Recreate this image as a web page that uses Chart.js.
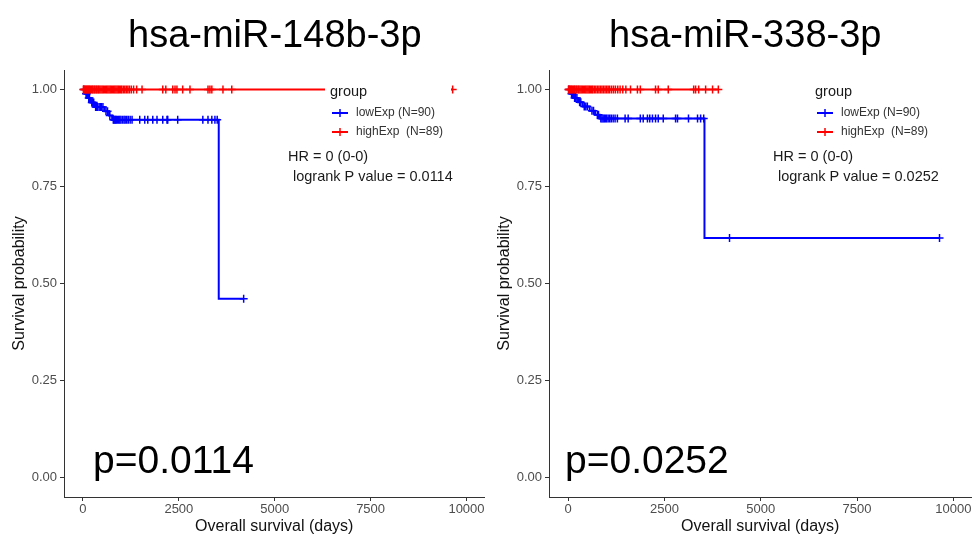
<!DOCTYPE html>
<html>
<head>
<meta charset="utf-8">
<script src="https://cdn.jsdelivr.net/npm/chart.js@4.4.1/dist/chart.umd.min.js"></script>
<style>
  body { margin: 0; width: 974px; height: 536px; background: #fff; position: relative; overflow: hidden;
         font-family: 'Liberation Sans', Arial, sans-serif; }
  .panel { position: absolute; top: 0; width: 490px; height: 536px; }
  .panel canvas { display: block; }
  .title { position: absolute; top: 15px; font-size: 38px; line-height: 38px; color: #000; white-space: nowrap; }
  .pval { position: absolute; top: 440px; font-size: 39px; line-height: 39px; color: #000; white-space: nowrap; }
</style>
</head>
<body>
<div class="panel" style="left:0"><canvas id="km148" width="490" height="536"></canvas></div>
<div class="panel" style="left:487px"><canvas id="km338" width="490" height="536"></canvas></div>
<div class="title" style="left:128px">hsa-miR-148b-3p</div>
<div class="title" style="left:609px">hsa-miR-338-3p</div>
<div class="pval" style="left:93px">p=0.0114</div>
<div class="pval" style="left:565px">p=0.0252</div>

<script>
/* Kaplan-Meier curves, lowExp vs highExp */
const xTicks = [0, 2500, 5000, 7500, 10000];
const yTicks = [0, 0.25, 0.5, 0.75, 1];
const groupLabels = ['lowExp (N=90)', 'highExp  (N=89)'];

// hsa-miR-148b-3p
const low148Times = [0, 50, 120, 200, 300, 560, 680, 760, 3540, 4190];
const low148Surv = [1, 0.989, 0.978, 0.966, 0.955, 0.944, 0.933, 0.922, 0.461, 0.461];
const low148Cens = [20, 80, 100, 150, 170, 230, 250, 280, 330, 350, 380, 420, 450, 480, 520, 600, 640, 700,
  790, 810, 830, 850, 870, 900, 930, 960, 990, 1030, 1070, 1100, 1140, 1180, 1230, 1280, 1480, 1610, 1690,
  1820, 1930, 2080, 2190, 2210, 2470, 3125, 3260, 3360, 3440, 3500, 4190];
const high148Times = [0, 9640];
const high148Surv = [1, 1];
const high148Cens = [10, 30, 50, 70, 90, 110, 130, 150, 170, 190, 220, 240, 260, 290, 310, 340, 360, 390, 410,
  440, 470, 500, 530, 560, 590, 620, 650, 680, 710, 740, 770, 800, 830, 860, 890, 920, 950, 980, 1010, 1050,
  1090, 1130, 1170, 1210, 1260, 1320, 1400, 1540, 2080, 2160, 2340, 2400, 2450, 2600, 2790, 3260, 3310, 3360,
  3650, 3880, 9640];
const stats148 = ['HR = 0 (0-0)', 'logrank P value = 0.0114'];

// hsa-miR-338-3p
const low338Times = [0, 60, 130, 260, 380, 560, 700, 820, 3540, 9640];
const low338Surv = [1, 0.989, 0.978, 0.967, 0.956, 0.945, 0.935, 0.925, 0.617, 0.617];
const low338Cens = [20, 90, 110, 170, 200, 230, 300, 330, 420, 460, 500, 620, 660, 760, 790, 850, 880, 910, 940,
  970, 1000, 1040, 1080, 1120, 1170, 1220, 1280, 1480, 1560, 1875, 1950, 2060, 2120, 2190, 2270, 2340, 2470,
  2790, 2840, 3125, 3360, 3440, 3520, 4190, 9640];
const high338Times = [0, 3900];
const high338Surv = [1, 1];
const high338Cens = [10, 30, 50, 70, 90, 110, 140, 160, 180, 210, 230, 260, 280, 310, 340, 370, 400, 430, 460,
  490, 520, 550, 580, 610, 640, 680, 720, 760, 800, 840, 880, 920, 960, 1000, 1040, 1080, 1130, 1180, 1230,
  1290, 1350, 1420, 1500, 1620, 1800, 1875, 2270, 2340, 2600, 3260, 3310, 3390, 3570, 3750, 3900];
const stats338 = ['HR = 0 (0-0)', 'logrank P value = 0.0252'];

const LOW_COLOR = '#0000ff';
const HIGH_COLOR = '#ff0000';
const FONT = "'Liberation Sans', Arial, sans-serif";

Chart.defaults.font.family = FONT;

function survAt(times, surv, t) {
  let s = surv[0];
  for (let i = 0; i < times.length; i++) if (times[i] <= t) s = surv[i];
  return s;
}

// legend box + HR/logrank text drawn inside the plot panel
const kmLegend = {
  id: 'kmLegend',
  afterDatasetsDraw(chart, args, opts) {
    const { ctx, chartArea: a } = chart;
    const L = a.left, T = a.top;
    ctx.save();
    ctx.fillStyle = '#fff';
    ctx.fillRect(L + 261, T + 8, 126, 64);
    ctx.textBaseline = 'middle';
    ctx.textAlign = 'left';
    ctx.fillStyle = '#1a1a1a';
    ctx.font = '14.5px ' + FONT;
    ctx.fillText('group', L + 266, T + 22);
    [LOW_COLOR, HIGH_COLOR].forEach((c, i) => {
      const y = T + 43 + i * 19;
      ctx.strokeStyle = c;
      ctx.lineWidth = 2;
      ctx.beginPath(); ctx.moveTo(L + 268, y); ctx.lineTo(L + 284, y); ctx.stroke();
      ctx.lineWidth = 1.5;
      ctx.beginPath(); ctx.moveTo(L + 276, y - 4); ctx.lineTo(L + 276, y + 4); ctx.stroke();
      ctx.fillStyle = '#333';
      ctx.font = '12px ' + FONT;
      ctx.fillText(groupLabels[i], L + 292, y);
    });
    ctx.fillStyle = '#1a1a1a';
    ctx.font = '14.5px ' + FONT;
    ctx.fillText(opts.stats[0], L + 224, T + 87);
    ctx.fillText(opts.stats[1], L + 229, T + 107);
    ctx.restore();
  }
};

function kmChart(canvasId, curves, stats, yAxisWidth, padRight, yTitlePad) {
  const datasets = [];
  curves.forEach(c => datasets.push({
    data: c.cens.map(t => ({ x: t, y: survAt(c.times, c.surv, t) })),
    showLine: false, pointStyle: 'cross', pointRadius: 4, pointBorderWidth: 1.5,
    borderColor: c.color, backgroundColor: c.color
  }));
  curves.forEach(c => datasets.push({
    data: c.times.map((t, i) => ({ x: t, y: c.surv[i] })),
    showLine: true, stepped: 'before', borderColor: c.color, borderWidth: 2, pointRadius: 0, fill: false
  }));

  return new Chart(document.getElementById(canvasId), {
    type: 'scatter',
    data: { datasets },
    plugins: [kmLegend],
    options: {
      responsive: false, animation: false, devicePixelRatio: 1,
      layout: { padding: { top: 70, right: padRight, bottom: 0, left: 0 } },
      plugins: { legend: { display: false }, tooltip: { enabled: false }, kmLegend: { stats } },
      scales: {
        x: {
          type: 'linear', min: -495, max: 10470,
          afterBuildTicks: s => { s.ticks = xTicks.map(v => ({ value: v })); },
          afterFit: s => { s.height = 39; s.paddingLeft = 0; s.paddingRight = 0; },
          ticks: { color: '#4d4d4d', font: { size: 13 }, padding: 1, maxRotation: 0, autoSkip: false, callback: v => String(v) },
          grid: { drawOnChartArea: false, color: '#333', tickLength: 4 },
          border: { color: '#333', width: 1 },
          title: { display: true, text: 'Overall survival (days)', color: '#111', font: { size: 16 }, padding: { top: 0, bottom: 0 } }
        },
        y: {
          type: 'linear', min: -0.05, max: 1.05,
          afterBuildTicks: s => { s.ticks = yTicks.map(v => ({ value: v })); },
          afterFit: s => { s.width = yAxisWidth; s.paddingTop = 0; s.paddingBottom = 0; },
          ticks: { color: '#4d4d4d', font: { size: 13 }, padding: 3, autoSkip: false, callback: v => v.toFixed(2) },
          grid: { drawOnChartArea: false, color: '#333', tickLength: 4 },
          border: { color: '#333', width: 1 },
          title: { display: true, text: 'Survival probability', color: '#111', font: { size: 16 }, padding: { top: yTitlePad, bottom: 0 } }
        }
      }
    }
  });
}

kmChart('km148', [
  { times: high148Times, surv: high148Surv, cens: high148Cens, color: HIGH_COLOR },
  { times: low148Times, surv: low148Surv, cens: low148Cens, color: LOW_COLOR }
], stats148, 64, 2, 10);

kmChart('km338', [
  { times: high338Times, surv: high338Surv, cens: high338Cens, color: HIGH_COLOR },
  { times: low338Times, surv: low338Surv, cens: low338Cens, color: LOW_COLOR }
], stats338, 62, 4, 8);
</script>
</body>
</html>
